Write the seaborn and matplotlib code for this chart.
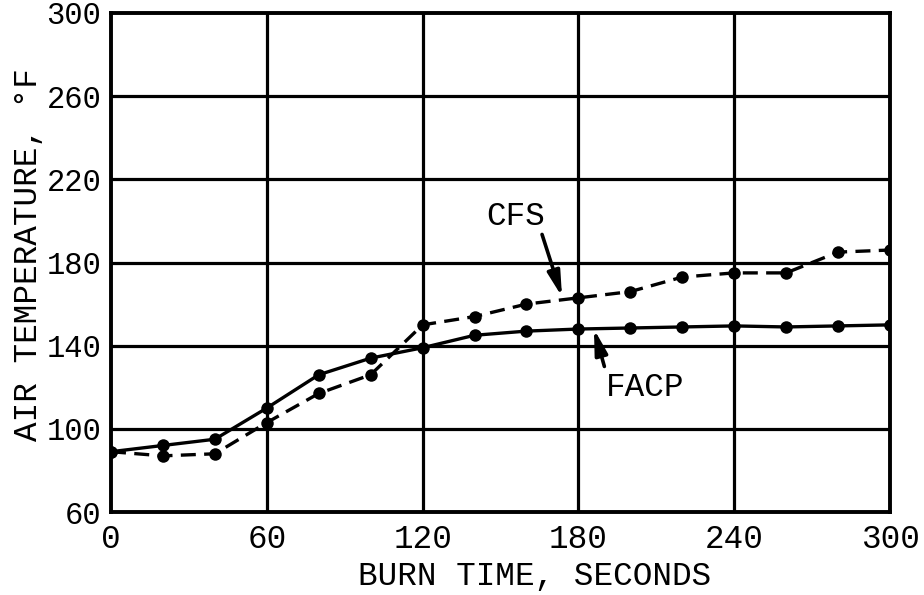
import matplotlib
matplotlib.use("Agg")
import matplotlib.pyplot as plt
import seaborn as sns
import pandas as pd

# Burn time (s) and measured air temperature (°F) for each configuration
burn_time = [0, 20, 40, 60, 80, 100, 120, 140, 160, 180, 200, 220, 240, 260, 280, 300]
facp_temp = [89, 92, 95, 110, 126, 134, 139, 145, 147, 148, 148.5, 149, 149.5, 149, 149.5, 150]
cfs_temp = [89, 87, 88, 103, 117, 126, 150, 154, 160, 163, 166, 173, 175, 175, 185, 186]

x_ticks = [0, 60, 120, 180, 240, 300]
y_ticks = [60, 100, 140, 180, 220, 260, 300]

df = pd.concat([
    pd.DataFrame({"time": burn_time, "temp": facp_temp, "series": "FACP"}),
    pd.DataFrame({"time": burn_time, "temp": cfs_temp, "series": "CFS"}),
])

sns.set_theme(style="white")
plt.rcParams["font.family"] = ["Liberation Mono", "DejaVu Sans Mono"]

fig = plt.figure(figsize=(9.24, 5.95), dpi=100)
ax = fig.add_axes([111 / 924, 1 - 512 / 595, 779 / 924, 499 / 595])

# grid drawn under the data
for xv in x_ticks[1:-1]:
    ax.axvline(xv, color="black", lw=2.3, zorder=1)
for yv in y_ticks[1:-1]:
    ax.axhline(yv, color="black", lw=2.3, zorder=1)

sns.lineplot(data=df, x="time", y="temp", style="series",
             dashes={"FACP": "", "CFS": (4.5, 2.5)},
             markers={"FACP": "o", "CFS": "o"},
             color="black", markersize=9, markeredgewidth=0,
             linewidth=2.4, legend=False, ax=ax, zorder=3)

ax.set_xlim(0, 300)
ax.set_ylim(60, 300)
ax.set_xticks(x_ticks)
ax.set_yticks(y_ticks)
ax.tick_params(axis="both", length=0, colors="black")
ax.tick_params(axis="x", pad=9, labelsize=23.5)
ax.tick_params(axis="y", pad=7, labelsize=22)

for sp in ax.spines.values():
    sp.set_color("black")
    sp.set_linewidth(2.8)
    sp.set_zorder(4)

ax.set_xlabel("BURN TIME, SECONDS", fontsize=23.5, color="black", va="center")
ax.xaxis.set_label_coords(0.544, -0.129)
ax.set_ylabel("AIR TEMPERATURE, °F", fontsize=23.5, color="black", va="center")
ax.yaxis.set_label_coords(-0.106, 0.515)

arrow = dict(arrowstyle="-|>,head_width=0.38,head_length=1.5",
             mutation_scale=10, color="black", lw=2.6, shrinkA=0, shrinkB=0)
ax.annotate("", xy=(173.7, 163.5), xytext=(166, 193.5), arrowprops=arrow, zorder=5)
ax.text(156, 202, "CFS", fontsize=23.5, ha="center", va="center", color="black")
ax.annotate("", xy=(186, 148), xytext=(190, 130), arrowprops=arrow, zorder=5)
ax.text(205.8, 119.8, "FACP", fontsize=23.5, ha="center", va="center", color="black")

fig.savefig("out.png", dpi=100)
